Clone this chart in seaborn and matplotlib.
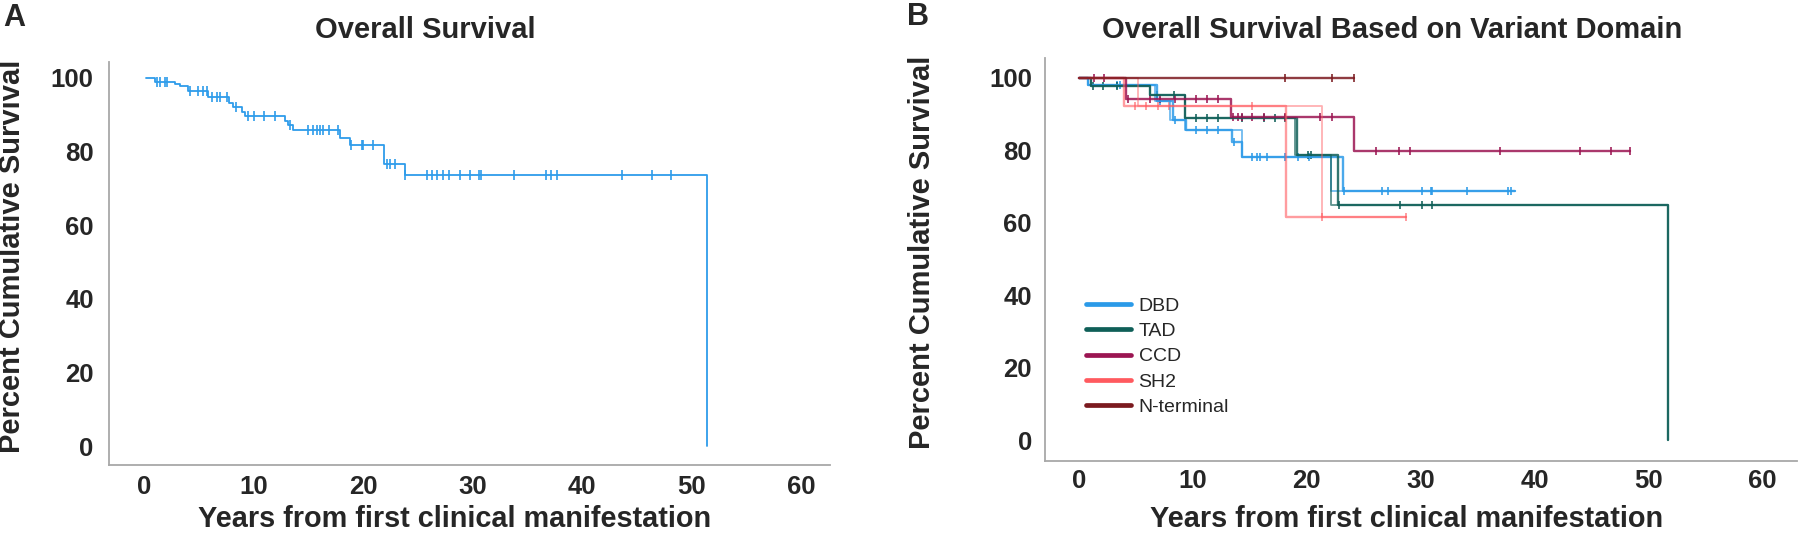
import numpy as np
import pandas as pd
import matplotlib
matplotlib.use("Agg")
import matplotlib.pyplot as plt
import seaborn as sns
from matplotlib.lines import Line2D

# ---------------- data ----------------
# Panel A: overall survival (Kaplan-Meier), percent
all_start = 0.2
all_event_t = [1.0, 2.84, 3.29, 4.05, 5.88, 7.79, 8.16, 8.92, 9.22, 12.87, 13.18,
               13.57, 17.88, 18.8, 21.9, 23.84, 51.38]
all_event_s = [99.0, 98.4, 97.9, 96.3, 94.9, 93.1, 92.0, 90.8, 89.7, 88.4, 87.2,
               85.7, 83.6, 81.7, 76.6, 73.6, 0.0]
all_end = 51.38
all_censor = [1.16, 1.5, 1.92, 2.1, 4.2, 4.96, 5.42, 5.72, 6.18, 6.64, 6.94, 7.55,
              8.4, 9.5, 10.04, 11.0, 11.96, 13.3, 15.0, 15.45, 15.76, 16.06, 16.36,
              16.91, 17.73, 18.89, 19.86, 20.0, 20.92, 22.2, 22.44, 22.9, 23.84,
              25.79, 26.31, 26.79, 27.31, 27.82, 28.83, 29.74, 30.59, 30.74, 33.78,
              36.73, 37.19, 37.71, 43.66, 46.37, 48.13]

# Panel B: survival by variant domain
domains = ["DBD", "TAD", "CCD", "SH2", "N-terminal"]
domain_colors = ["#2B9AE8", "#0F5F58", "#9B1552", "#FF5A5F", "#7B1A1F"]

dbd_event_t = [0.8, 6.8, 8.26, 9.43, 13.39, 14.27, 23.2]
dbd_event_t_alt = [0.8, 6.65, 8.0, 9.3, 14.27, 14.27, 22.15]
dbd_event_s = [98.1, 93.5, 88.4, 85.6, 82.4, 78.3, 68.9]
dbd_end = 38.3
dbd_censor = [3.3, 3.6, 7.1, 8.4, 10.3, 11.2, 12.2, 13.6, 15.15, 15.6, 15.9, 16.5,
              18.1, 19.2, 20.2, 23.3, 26.6, 27.1, 30.1, 30.9, 31.0, 34.1, 37.65, 37.96]

tad_event_t = [1.0, 6.2, 9.3, 19.16, 22.7, 51.7]
tad_event_t_alt = [1.0, 6.2, 9.3, 19.0, 22.15, 51.7]
tad_event_s = [97.9, 95.3, 88.9, 78.8, 64.8, 0.0]
tad_end = 51.7
tad_censor = [1.2, 2.1, 3.3, 6.8, 8.3, 10.3, 11.2, 12.2, 14.3, 16.2, 17.2, 18.1,
              20.1, 20.4, 22.8, 28.2, 30.1, 31.0]

ccd_event_t = [4.16, 13.3, 24.15]
ccd_event_t_alt = [4.16, 13.3, 24.15]
ccd_event_s = [94.1, 89.1, 79.8]
ccd_end = 48.4
ccd_censor = [1.3, 2.2, 4.3, 6.2, 7.1, 8.4, 9.3, 10.3, 11.2, 12.2, 13.5, 14.0, 14.3,
              15.2, 16.2, 18.1, 21.2, 22.2, 26.1, 28.1, 29.1, 37.0, 44.0, 46.7, 48.4]

sh2_event_t = [3.9, 18.2]
sh2_event_t_alt = [5.2, 21.3]
sh2_event_s = [92.3, 61.5]
sh2_end = 28.7
sh2_censor = [4.9, 5.9, 6.9, 7.9, 15.2, 21.3, 28.7]

nt_event_t = []
nt_event_t_alt = []
nt_event_s = []
nt_end = 24.15
nt_censor = [18.1, 22.2, 24.15]

x_ticks = [0, 10, 20, 30, 40, 50, 60]
y_ticks = [0, 20, 40, 60, 80, 100]

# ---------------- helpers ----------------
def step_frame(start, ev_t, ev_s, end):
    t = [start] + list(ev_t)
    s = [100.0] + list(ev_s)
    if end > t[-1]:
        t.append(end)
        s.append(s[-1])
    return pd.DataFrame({"t": t, "s": s})

def level_at(times, start, ev_t, ev_s):
    ev_t = np.asarray(ev_t, dtype=float)
    ev_s = np.asarray(ev_s, dtype=float)
    out = []
    for x in times:
        idx = np.searchsorted(ev_t, x, side="right") - 1
        out.append(100.0 if idx < 0 else ev_s[idx])
    return pd.DataFrame({"t": times, "s": out})

# ---------------- figure ----------------
sns.set_theme(style="white")
plt.rcParams["font.family"] = ["Liberation Sans", "DejaVu Sans"]

W, H = 1800, 534
fig = plt.figure(figsize=(18, 5.34), dpi=100)
fig.patch.set_facecolor("white")

def fx(px):
    return px / W

def fy(py):
    return 1 - py / H

axA = fig.add_axes([fx(109), fy(465), fx(830) - fx(109), fy(62) - fy(465)])
axB = fig.add_axes([fx(1045), fy(460.7), fx(1797) - fx(1045), fy(58) - fy(460.7)])

spine_col = "#A8A8A8"
for ax in (axA, axB):
    ax.set_facecolor("white")
    for sp in ("top", "right"):
        ax.spines[sp].set_visible(False)
    for sp in ("left", "bottom"):
        ax.spines[sp].set_color(spine_col)
        ax.spines[sp].set_linewidth(1.3)
    ax.set_xticks(x_ticks)
    ax.set_yticks(y_ticks)
    ax.tick_params(length=0, labelsize=18.5)
    for lab in ax.get_xticklabels() + ax.get_yticklabels():
        lab.set_fontweight("bold")
    ax.grid(False)

# ---- Panel A ----
colA = "#2E9CEA"
dfA = step_frame(all_start, all_event_t, all_event_s, all_end)
sns.lineplot(data=dfA, x="t", y="s", ax=axA, color=colA, lw=1.3,
             drawstyle="steps-post", estimator=None, sort=False)
cA = level_at(all_censor, all_start, all_event_t, all_event_s)
sns.scatterplot(data=cA, x="t", y="s", ax=axA, marker="|", s=45,
                color=colA, linewidth=1.2)
axA.set_xlim(-3.18, 62.6)
axA.set_ylim(-5.16, 104.3)
axA.tick_params(axis="y", pad=11)
axA.tick_params(axis="x", pad=7)

# ---- Panel B ----
groups = [
    (dbd_event_t, dbd_event_t_alt, dbd_event_s, dbd_end, dbd_censor),
    (tad_event_t, tad_event_t_alt, tad_event_s, tad_end, tad_censor),
    (ccd_event_t, ccd_event_t_alt, ccd_event_s, ccd_end, ccd_censor),
    (sh2_event_t, sh2_event_t_alt, sh2_event_s, sh2_end, sh2_censor),
    (nt_event_t, nt_event_t_alt, nt_event_s, nt_end, nt_censor),
]
alphas = [0.85, 0.85, 0.85, 0.6, 0.85]
for (ev_t, ev_t_alt, ev_s, end, cens), col, a in zip(groups, domain_colors, alphas):
    df = step_frame(0.0, ev_t, ev_s, end)
    sns.lineplot(data=df, x="t", y="s", ax=axB, color=col, lw=1.7, alpha=a,
                 drawstyle="steps-post", estimator=None, sort=False)
    if list(ev_t_alt) != list(ev_t):
        df2 = step_frame(0.0, ev_t_alt, ev_s, end)
        sns.lineplot(data=df2, x="t", y="s", ax=axB, color=col, lw=1.3, alpha=a * 0.8,
                     drawstyle="steps-post", estimator=None, sort=False)
    cdf = level_at(cens, 0.0, ev_t, ev_s)
    sns.scatterplot(data=cdf, x="t", y="s", ax=axB, marker="|", s=40,
                    color=col, linewidth=1.2, alpha=min(1.0, a + 0.1))
axB.set_xlim(-3.0, 63.07)
axB.set_ylim(-5.7, 105.5)
axB.tick_params(axis="y", pad=9.5)
axB.tick_params(axis="x", pad=6)

handles = [Line2D([0], [0], color=c, lw=3.4) for c in domain_colors]
axB.legend(handles, domains, loc="upper left",
           bbox_to_anchor=(fx(1086), fy(297)), bbox_transform=fig.transFigure,
           frameon=False, borderpad=0, borderaxespad=0, handlelength=2.3,
           handletextpad=0.4, labelspacing=0.40, prop={"size": 14})

# ---- labels ----
xl = "Years from first clinical manifestation"
yl = "Percent Cumulative Survival"
for ax, xc, yc, ycen in ((axA, 455, 12, 256), (axB, 1407, 921.5, 252)):
    ax.set_xlabel(xl, fontsize=20.8, fontweight="bold")
    ax.set_ylabel(yl, fontsize=21, fontweight="bold")
    ax.xaxis.set_label_coords(fx(xc), fy(519), transform=fig.transFigure)
    ax.xaxis.label.set_va("center")
    ax.xaxis.label.set_ha("center")
    ax.yaxis.set_label_coords(fx(yc), fy(ycen), transform=fig.transFigure)
    ax.yaxis.label.set_va("center")
    ax.yaxis.label.set_ha("center")

fig.text(fx(425.7), fy(30), "Overall Survival", fontsize=21, fontweight="bold",
         ha="center", va="center")
fig.text(fx(1391.7), fy(30), "Overall Survival Based on Variant Domain", fontsize=21,
         fontweight="bold", ha="center", va="center")
fig.text(fx(14), fy(18), "A", fontsize=22, fontweight="bold", ha="center", va="center")
fig.text(fx(918), fy(17), "B", fontsize=22, fontweight="bold", ha="center", va="center")

fig.savefig("out.png", dpi=100, facecolor="white")
